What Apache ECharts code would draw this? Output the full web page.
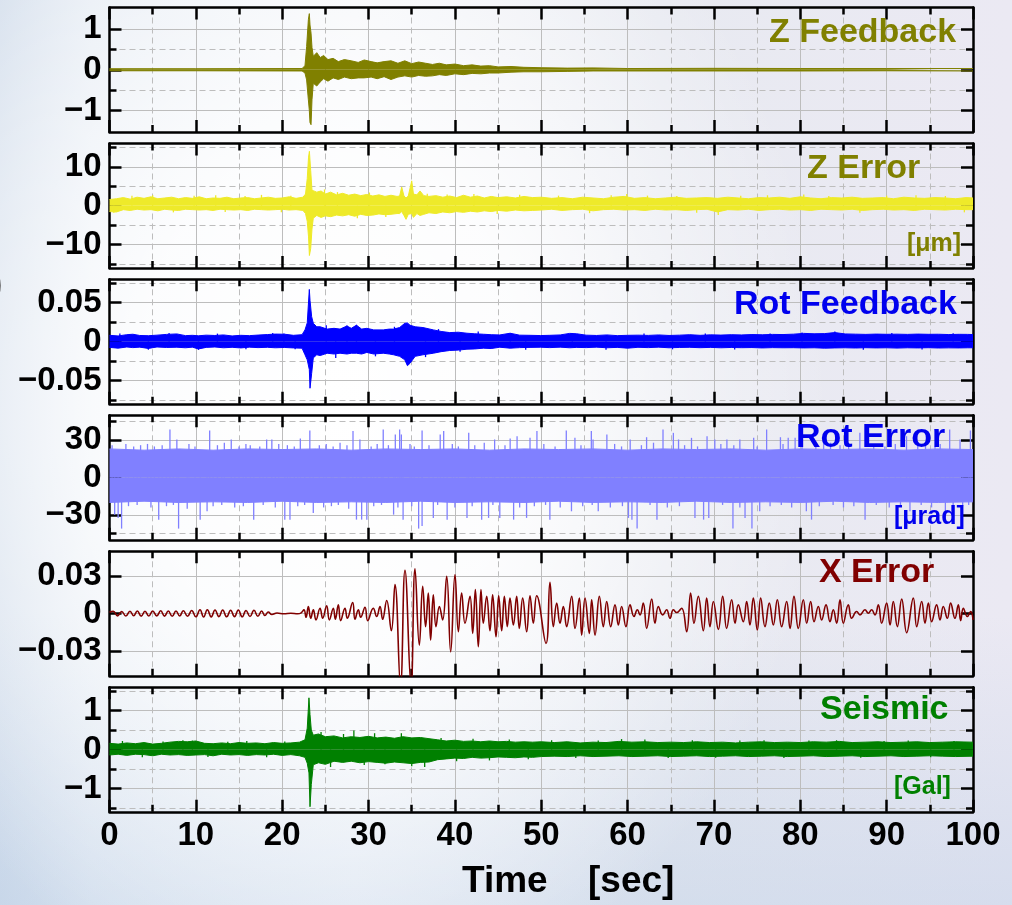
<!DOCTYPE html>
<html lang="en">
<head>
<meta charset="UTF-8">
<title>Feedback / error signals during an earthquake</title>
<script src="https://cdn.jsdelivr.net/npm/echarts@6.0.0/dist/echarts.min.js"></script>
<style>
html, body { margin: 0; padding: 0; }
body {
  width: 1012px; height: 905px; overflow: hidden;
  background:
    radial-gradient(ellipse 500px 620px at 330px 400px, rgba(255,255,255,1) 0%, rgba(255,255,255,0.85) 40%, rgba(255,255,255,0) 100%),
    linear-gradient(180deg, rgba(255,255,255,0) 68%, rgba(170,195,225,0.32) 100%),
    linear-gradient(90deg, #d6e0ed 0%, #e6ecf4 9%, #f3f5f9 35%, #e8eaf1 65%, #ebe9f3 100%);
}
#chart { width: 1012px; height: 905px; }
</style>
</head>
<body>
<div id="chart"></div>
<script>
// envelopes of the dense traces: [time s, upper, lower]
const zFeedback = [
  [0,.025,-.025],[10,.025,-.025],[22.3,.03,-.03],[22.64,.1,-.08],[22.83,.57,-.25],[23.03,1.23,-.74],
  [23.14,1.38,-1.0],[23.22,1.1,-1.3],[23.34,.9,-1.35],[23.45,.55,-.74],[23.6,.33,-.33],[24.0,.42,-.4],
  [24.4,.3,-.3],[24.8,.35,-.22],[25.3,.25,-.28],[25.9,.28,-.2],[26.5,.2,-.24],[27.2,.25,-.18],[28,.22,-.22],
  [28.8,.18,-.2],[29.5,.24,-.2],[30.3,.2,-.18],[31,.17,-.22],[31.8,.2,-.17],[32.6,.22,-.24],[33.4,.16,-.18],
  [34.2,.22,-.15],[35,.15,-.18],[35.8,.19,-.14],[36.6,.16,-.16],[37.4,.13,-.15],[38.2,.16,-.12],[39,.12,-.14],
  [40,.14,-.1],[41,.1,-.12],[42,.12,-.09],[43,.09,-.1],[44,.1,-.08],[45,.07,-.08],[46.5,.08,-.06],[48,.06,-.05],
  [50,.05,-.05],[53,.04,-.04],[56,.045,-.03],[60,.03,-.03],[70,.035,-.03],[80,.03,-.03],[90,.03,-.025],[100,.03,-.03]
];
const zError = [
  [0,1.6,-1.5],[0.8,1.8,-1.6],[1.6,2.1,-1.0],[2.4,1.7,-1.2],[3.2,2.2,-0.9],[4.0,1.9,-1.1],[4.8,2.3,-1.0],
  [5.6,1.8,-1.3],[6.4,2.0,-0.9],[7.2,2.2,-1.1],[8.0,1.8,-1.2],[8.8,2.1,-0.9],[9.6,1.9,-1.0],[10.4,2.3,-1.1],
  [11.2,1.8,-1.0],[12.0,2.0,-1.2],[12.8,1.9,-0.9],[13.6,2.2,-1.0],[14.4,1.8,-1.1],[15.2,2.0,-1.0],[16.0,2.1,-1.2],
  [16.8,1.8,-0.9],[17.6,2.0,-1.0],[18.4,2.2,-1.1],[19.2,1.9,-1.0],[20.0,2.0,-0.9],[20.8,2.3,-1.1],[21.6,1.9,-1.0],
  [22.4,2.2,-1.2],[22.7,3.0,-2.0],[22.9,7,-4],[23.05,12.5,-8],[23.15,14,-12.8],[23.3,9,-11],[23.45,4,-6],
  [23.6,3.8,-3.2],[24.0,3.5,-2.5],[24.5,3.8,-3.0],[25.0,3.0,-2.6],[25.6,3.5,-2.8],[26.3,2.8,-2.4],[27.0,3.2,-2.6],
  [27.7,2.7,-2.3],[28.4,3.0,-2.7],[29.1,2.6,-2.2],[29.8,2.9,-2.5],[30.5,2.5,-2.4],[31.2,2.8,-2.1],[31.9,2.4,-2.3],
  [32.6,2.7,-2.2],[33.3,2.4,-2.0],[33.6,2.5,-2.0],[33.84,4.8,-1.5],[34.1,2.5,-2.5],[34.34,2.0,-3.5],[34.6,2.5,-2.2],
  [35.0,6.4,-2.0],[35.2,3.0,-3.0],[35.34,2.5,-3.2],[35.6,2.8,-2.0],[35.96,3.8,-2.5],[36.4,2.6,-2.2],[37,2.4,-1.8],
  [37.8,2.6,-2.0],[38.6,2.2,-1.6],[39.4,2.5,-1.8],[40.2,2.1,-1.5],[41,2.7,-1.7],[41.8,2.2,-1.4],[42.6,2.5,-1.6],
  [43.4,2.0,-1.3],[44.2,2.4,-1.5],[45,2.1,-1.2],[46,2.3,-1.4],[47,2.0,-1.1],[48,2.4,-1.3],[49,2.1,-1.2],[50,2.2,-1.1],
  [51.2,1.9,-0.9],[52.4,2.1,-1.2],[53.6,1.8,-1.0],[54.8,2.2,-0.9],[56,2.0,-1.3],[57.2,1.8,-1.0],[58.4,2.2,-0.9],
  [59.6,2.4,-1.1],[60.8,1.9,-1.0],[62,2.1,-1.2],[63.2,1.8,-0.9],[64.4,2.0,-1.1],[65.6,2.2,-1.0],[66.8,1.9,-1.2],
  [68,2.0,-1.0],[69.2,2.1,-0.9],[70.4,1.9,-1.6],[71.6,2.2,-1.0],[72.8,2.0,-1.1],[74,1.8,-0.9],[75.2,2.1,-1.2],
  [76.4,2.0,-1.0],[77.6,2.2,-0.9],[78.8,1.9,-1.1],[80,2.3,-1.0],[81.2,2.0,-1.2],[82.4,1.8,-0.9],[83.6,2.1,-1.0],
  [84.8,2.0,-1.1],[86,2.2,-0.9],[87.2,1.9,-1.2],[88.4,2.0,-1.0],[89.6,2.1,-0.9],[90.8,1.8,-1.1],[92,2.2,-1.0],
  [93.2,2.0,-1.2],[94.4,1.9,-0.9],[95.6,2.1,-1.0],[96.8,2.0,-1.1],[98,1.8,-0.9],[99.2,2.1,-1.0],[100,2.0,-1.0]
];
const zErrorSpikes = [
  [0.5,-1.8],[2.6,2.6],[5.0,2.7],[7.4,-1.7],[9.8,2.6],[12.3,2.7],[13.4,-1.6],[15.7,2.5],[17.6,2.8],[19.9,-1.7],
  [21.0,2.6],[24.9,4.2],[26.4,3.5],[28.7,-3.2],[30.1,3.4],[32.0,-2.9],[36.8,3.1],[39.1,2.9],[42.2,3.0],[44.9,-2.1],
  [47.5,2.8],[52.0,2.6],[55.6,-1.9],[58.1,2.7],[59.9,3.0],[62.3,2.6],[65.7,2.5],[68.0,-1.8],[70.5,-2.4],[73.1,2.6],
  [76.2,2.7],[80.4,2.9],[83.3,2.5],[86.9,-1.8],[90.0,2.6],[93.4,2.7],[96.8,2.5],[99.0,-1.7]
];
const rotFeedback = [
  [0,.008,-.0075],[1,.0072,-.0085],[2,.0088,-.007],[2.7,.0094,-.0078],[3.5,.0078,-.0072],[4.5,.0075,-.0088],
  [5.5,.0082,-.007],[6.6,.0092,-.0076],[7.8,.0098,-.0073],[8.8,.0076,-.008],[9.6,.008,-.0072],[10.3,.0074,-.0095],
  [11.2,.0082,-.0075],[12.2,.0078,-.007],[13.2,.0085,-.008],[14.2,.0072,-.0074],[15.2,.008,-.0082],[16.2,.0076,-.0072],
  [17.2,.0083,-.0078],[18.3,.009,-.0074],[19.2,.0096,-.008],[20.3,.0094,-.0076],[21.3,.008,-.0082],[22.3,.0088,-.0085],
  [22.64,.015,-.017],[22.9,.024,-.0235],[23.14,.067,-.036],[23.22,.053,-.06],[23.41,.032,-.041],[23.6,.0235,-.021],
  [24.0,.019,-.017],[24.4,.019,-.018],[25.2,.016,-.015],[26.0,.017,-.016],[26.7,.016,-.015],[27.5,.02,-.016],
  [28.0,.017,-.015],[28.6,.021,-.015],[29.2,.016,-.016],[29.8,.017,-.014],[30.6,.015,-.016],[31.7,.015,-.015],
  [32.4,.016,-.016],[32.9,.016,-.017],[33.6,.018,-.019],[34.2,.0235,-.0235],[34.5,.024,-.031],[34.8,.021,-.028],
  [35.4,.019,-.019],[36.3,.018,-.017],[37.5,.015,-.015],[38.4,.013,-.013],[39.4,.0115,-.0115],[40.4,.012,-.011],
  [41.4,.0107,-.0098],[42.3,.01,-.0095],[43.3,.0094,-.0085],[44.2,.0088,-.009],[45.2,.0085,-.0073],[46.4,.0107,-.0085],
  [47.5,.0082,-.0078],[48.7,.008,-.0075],[49.9,.0077,-.0073],[51,.008,-.0078],[52.2,.0085,-.0072],[53.3,.0105,-.008],
  [54.1,.01,-.0075],[55.2,.0082,-.0078],[56.4,.0078,-.0072],[57.6,.0085,-.008],[58.8,.0076,-.0075],[60,.008,-.0085],
  [61.2,.0082,-.0074],[62.4,.0079,-.0078],[63.6,.0085,-.0072],[64.8,.0078,-.008],[66,.0082,-.0076],[67.2,.0088,-.0074],
  [68.4,.008,-.0079],[69.6,.0086,-.0075],[70.8,.0083,-.008],[72,.0088,-.0076],[73.2,.0085,-.0079],[74.4,.009,-.0077],
  [75.6,.0087,-.0082],[76.8,.0092,-.0078],[78,.009,-.008],[79.2,.0095,-.0079],[80.4,.0105,-.0082],[81.6,.01,-.008],
  [82.8,.0102,-.0085],[84,.0115,-.0082],[85.2,.0098,-.008],[86.4,.0095,-.0083],[87.6,.0092,-.0079],[88.8,.0096,-.0082],
  [90,.0093,-.008],[91.2,.0095,-.0084],[92.4,.0092,-.008],[93.6,.0096,-.0082],[94.8,.0093,-.0079],[96,.0094,-.0083],
  [97.2,.009,-.0081],[98.4,.0093,-.0082],[99.4,.0092,-.008],[100,.009,-.008]
];
const rotFeedbackSpikes = [
  [1.2,.0105],[4.5,-.0105],[6.9,.011],[10.3,-.0107],[12.5,.0102],[15.8,-.01],[18.9,.011],[20.2,.0105],[21.5,-.01],
  [25.1,.021],[26.2,-.021],[27.5,.0205],[28.6,.0214],[30.8,-.019],[33.0,.019],[36.6,-.02],[38.1,.016],[40.6,-.013],
  [42.7,.013],[46.4,.0107],[48.2,-.0105],[53.6,.0107],[57.5,-.0105],[61.9,.0102],[65.2,-.01],[69.0,.0102],
  [72.4,-.0103],[76.5,.0105],[80.2,.0115],[84.0,.0128],[87.3,-.0105],[90.6,.011],[94.1,-.0102],[97.7,.0107]
];
const rotError = [
  [0,23,-20],[4,22,-19],[8,23,-20],[12,22,-19.5],[16,23,-20],[20,22.5,-19],[24,23,-20],[28,22,-19.5],[32,23,-20],
  [36,22.5,-19],[40,23,-20],[44,22,-19.5],[48,23,-20],[52,22.5,-19],[56,23,-20],[60,22,-19.5],[64,23,-20],
  [68,22.5,-19],[72,23,-20],[76,22,-19.5],[80,23,-20],[84,22.5,-19],[88,23,-20],[92,22,-19.5],[96,23,-20],[100,22.5,-19.5]
];
const rotErrorSpikes = [
  [7.0,38.6],[7.8,30.6],[11.6,37.8],[14.1,30.6],[18.2,30.6],[18.8,30.6],[22.1,31.4],[23.2,37.8],[28.2,37.3],[29.0,30.6],
  [31.7,38.6],[33.1,34.6],[33.6,38.6],[33.8,34.6],[36.2,37.8],[38.3,34.6],[38.7,37.3],[41.6,35.9],[44.6,30.6],[46.4,31.4],
  [47.2,33.2],[48.7,31.9],[49.5,37.3],[52.9,37.8],[53.9,31.9],[55.8,37.3],[56.0,30.6],[57.6,34.6],[60.3,30.6],[62.2,32.4],
  [64.1,38.6],[65.3,35.9],[65.9,30.6],[67.4,31.9],[69.2,33.2],[70.1,30.6],[71.5,30.6],[73.0,30.6],[74.6,31.9],[76.1,38.6],
  [77.7,32.4],[78.6,31.9],[79.4,31.9],[82.7,34.6],[86.9,35.9],[92.3,33.2],[97.3,38.6],[98.5,30.6],[99.7,37.8],
  [0.6,-29.8],[1.0,-32.4],[1.4,-41],[5.7,-33.8],[8.0,-41],[10.5,-33.8],[11.3,-27.1],[16.7,-33.8],[20.3,-33.8],[20.9,-33.8],
  [23.6,-28.4],[28.6,-33.8],[29.2,-33.8],[29.8,-33.8],[32.9,-29.8],[34.0,-33.8],[35.8,-41],[36.2,-39],[37.5,-32.4],
  [39.1,-33.8],[41.4,-32.4],[43.1,-33.8],[43.9,-32.4],[45.2,-32.4],[46.8,-33.8],[48.3,-32.4],[51.0,-33.8],[53.5,-27.1],
  [56.6,-27.1],[60.1,-32.4],[60.5,-33.8],[61.1,-41],[63.4,-33.8],[67.8,-32.4],[68.8,-33.8],[69.4,-32.4],[72.2,-41],
  [73.6,-32.4],[74.4,-41],[75.3,-27.1],[80.7,-27.1],[81.3,-33.8],[87.5,-33.8],[92.7,-27.1],[96.8,-32.4],[97.7,-33.8],
  [0.3,26],[1.9,27],[2.8,25],[3.6,26],[4.4,27],[5.2,25],[6.1,26],[9.2,27],[9.9,25],[12.5,26],[13.3,28],[15.0,25],
  [15.8,27],[16.3,26],[17.4,25],[19.6,27],[20.6,26],[21.4,25],[24.3,26],[25.1,27],[25.9,25],[26.7,28],[27.5,26],
  [30.3,25],[31.0,27],[32.3,26],[34.8,27],[35.3,25],[37.0,26],[39.7,27],[40.4,25],[42.3,26],[43.4,28],[45.8,26],
  [50.3,27],[51.6,25],[54.6,26],[58.5,27],[59.3,25],[61.6,26],[63.0,28],[66.6,26],[68.1,25],[70.8,27],[72.3,26],
  [75.0,25],[78.0,27],[80.2,26],[81.8,25],[83.5,28],[84.6,26],[85.6,27],[88.5,26],[89.8,25],[91.0,27],[93.6,26],
  [94.5,28],[95.6,25],[96.2,27],
  [2.2,-23],[3.2,-22],[4.8,-24],[6.6,-23],[7.4,-22],[9.0,-25],[12.0,-23],[13.0,-22],[14.5,-24],[15.5,-23],[17.8,-22],
  [19.2,-24],[21.8,-23],[22.6,-22],[24.8,-24],[25.7,-23],[26.5,-22],[27.7,-25],[30.6,-23],[31.5,-22],[33.4,-24],
  [35.0,-23],[38.0,-22],[40.0,-24],[42.0,-23],[44.4,-22],[47.5,-24],[49.2,-23],[50.5,-22],[52.2,-24],[54.8,-23],
  [55.9,-22],[58.0,-24],[59.4,-23],[62.6,-22],[64.6,-24],[66.0,-23],[71.0,-22],[73.0,-24],[76.5,-23],[77.8,-22],
  [79.0,-24],[82.2,-23],[83.8,-22],[85.0,-24],[86.2,-23],[88.8,-22],[90.3,-24],[91.6,-23],[94.0,-22],[95.2,-24],
  [98.8,-23],[99.5,-22]
];
const seismic = [
  [0,.16,-.14],[1,.14,-.12],[2,.17,-.15],[3,.15,-.12],[4,.18,-.13],[5,.14,-.16],[6,.16,-.12],[7,.19,-.14],[8,.21,-.13],
  [9,.2,-.15],[10,.22,-.14],[11,.16,-.13],[12,.15,-.16],[13,.17,-.12],[14,.15,-.14],[15,.18,-.13],[16,.16,-.15],
  [17,.17,-.13],[18,.15,-.14],[19,.18,-.12],[20,.16,-.15],[21,.17,-.13],[22,.19,-.16],[22.64,.25,-.2],[22.9,.55,-.35],
  [23.1,1.33,-.6],[23.22,.9,-1.47],[23.37,.5,-.9],[23.6,.37,-.39],[24.2,.4,-.34],[25,.33,-.38],[26,.35,-.3],[27,.3,-.33],
  [28,.33,-.3],[29,.31,-.34],[30,.34,-.31],[31,.3,-.33],[32,.32,-.35],[33,.29,-.32],[34,.33,-.34],[35,.3,-.36],
  [36,.31,-.33],[37,.28,-.32],[38,.25,-.26],[39,.22,-.24],[40,.24,-.22],[41,.21,-.23],[42,.22,-.2],[43,.2,-.22],
  [44,.22,-.21],[45,.2,-.19],[46,.21,-.2],[47,.19,-.21],[48,.2,-.19],[49,.19,-.2],[50,.2,-.18],[51.5,.18,-.17],
  [53,.2,-.18],[54.5,.17,-.16],[56,.19,-.18],[57.5,.18,-.17],[59,.21,-.16],[60.5,.19,-.18],[62,.2,-.17],[63.5,.18,-.16],
  [65,.19,-.18],[66.5,.18,-.17],[68,.2,-.16],[69.5,.18,-.18],[71,.19,-.17],[72.5,.17,-.16],[74,.19,-.18],[75.5,.2,-.17],
  [77,.18,-.16],[78.5,.19,-.18],[80,.18,-.17],[81.5,.2,-.16],[83,.19,-.18],[84.5,.21,-.17],[86,.18,-.16],[87.5,.19,-.18],
  [89,.2,-.17],[90.5,.18,-.16],[92,.19,-.18],[93.5,.2,-.17],[95,.18,-.16],[96.5,.19,-.17],[98,.2,-.18],[100,.19,-.17]
];
const seismicSpikes = [
  [1.5,.22],[3.8,-.2],[6.2,.21],[8.5,.24],[9.6,.23],[11.4,-.19],[13.7,.2],[15.9,.22],[18.2,-.2],[20.3,.21],[24.5,.45],
  [25.6,-.45],[27.1,.4],[28.3,.49],[29.5,-.4],[30.7,.42],[31.9,-.38],[33.8,.42],[35.0,-.43],[36.5,-.45],[38.4,.3],
  [40.2,-.3],[42.1,.28],[44.0,-.28],[46.3,.26],[48.5,-.25],[51.2,.24],[54.0,-.22],[56.6,.23],[59.3,.27],[62.0,.26],
  [64.7,-.22],[67.5,.24],[70.2,-.21],[73.0,.23],[75.8,.24],[78.1,-.22],[81.0,.23],[84.2,.24],[87.0,-.21],[89.7,.22],
  [92.5,.23],[95.1,-.2],[97.8,.22]
];
// X error is resolved cycle by cycle: [time s, value] at each turning point
const xError = [
  [0,.001],[0.44,.0018],[0.93,-.0019],[1.41,.0017],[1.89,-.002],[2.37,.0019],[2.8,-.0018],[3.22,.002],[3.67,-.0021],
  [4.11,.0018],[4.55,-.002],[5.0,.0021],[5.47,-.0019],[5.93,.0022],[6.37,-.0021],[6.81,.002],[7.26,-.0022],[7.7,.0021],
  [8.13,-.002],[8.55,.0023],[9.04,-.0022],[9.52,.0024],[10.0,-.0026],[10.48,.003],[10.9,-.0028],[11.33,.0031],
  [11.78,-.0027],[12.22,.0029],[12.67,-.0025],[13.11,.0028],[13.57,-.0026],[14.03,.0027],[14.48,-.0025],[14.92,.0028],
  [15.37,-.0026],[15.81,.0025],[16.27,-.0024],[16.73,.0026],[17.18,-.0022],[17.62,.002],[18.0,-.0016],[18.39,.0012],
  [18.8,-.0008],[19.4,.0004],[20.2,-.0002],[21.0,.0003],[21.8,-.0002],[22.2,.0006],
  [22.52,.003],[22.76,-.003],[23.03,.0057],[23.3,-.0038],[23.61,.003],[23.91,-.0051],[24.38,.0043],[24.69,-.0038],
  [25.15,.0062],[25.46,-.0051],[25.92,.0043],[26.15,-.0046],[26.5,.007],[26.77,-.0057],[27.27,.0043],[27.54,-.0038],
  [28.16,.0089],[28.43,-.0046],[28.82,.003],[29.09,-.003],[29.59,.0051],[29.9,-.0057],[30.55,.0043],[30.94,-.0024],
  [31.33,.0057],[31.63,-.0046],[32.1,.0105],[32.64,-.0138],[33.06,.0232],[33.7,-.058],[34.22,.0348],[34.92,-.058],
  [35.38,.0359],[35.88,-.0254],[36.27,.0219],[36.61,-.0105],[36.92,.0165],[37.19,-.0213],[37.5,.0151],[37.81,-.0105],
  [38.2,.0057],[38.58,-.0051],[39.05,.03],[39.51,-.0308],[40.01,.0313],[40.4,-.0146],[40.78,.0165],[41.17,-.0078],
  [41.75,.0138],[42.06,-.0159],[42.37,.0192],[42.71,-.0267],[43.02,.0192],[43.29,-.0078],[43.68,.0138],[44.06,-.0138],
  [44.37,.0151],[44.76,-.0186],[45.07,.0143],[45.42,-.0138],[45.73,.0138],[46.07,-.0105],[46.38,.0124],[46.77,-.0092],
  [47.15,.0138],[47.46,-.0119],[47.85,.0124],[48.31,-.0146],[48.7,.0143],[49.08,-.0078],[49.47,.0143],
  [50.55,-.024],[51.01,.0251],[51.4,-.0105],[51.79,.0084],[52.17,-.0078],[52.56,.0057],[52.94,-.0105],[53.52,.0138],
  [53.91,-.0119],[54.41,.0124],[54.68,-.0173],[55.07,.0124],[55.57,-.0159],[55.84,.0111],[56.23,-.0173],[56.73,.0138],
  [57.19,-.0105],[57.58,.0097],[58.04,-.0105],[58.54,.007],[58.93,-.0092],[59.31,.0057],[59.81,-.0105],[60.28,.007],
  [60.74,-.0024],[61.13,.003],[61.44,-.0011],[61.82,.0084],[62.21,-.0119],[62.79,.0116],[63.17,-.0078],[63.56,.0057],
  [64.06,-.0011],[64.52,.003],[64.91,-.0038],[65.3,.003],[65.68,.0008],[66.26,.0043],[66.84,-.0146],[67.3,.0165],
  [67.69,-.0078],[68.19,.0138],[68.77,-.0138],[69.16,.0124],[69.54,-.0105],[69.93,.0097],[70.51,-.0127],[71.01,.0138],
  [71.47,-.0119],[72.05,.0111],[72.44,-.0078],[72.82,.007],[73.4,-.0065],[73.79,.0097],[74.17,-.0092],[74.56,.0124],
  [75.02,-.0132],[75.41,.0124],[75.91,-.0105],[76.41,.0084],[76.88,-.0092],[77.34,.0111],[77.84,-.0105],[78.42,.0097],
  [78.81,-.0119],[79.27,.0138],[79.77,-.0119],[80.35,.0111],[80.74,-.0078],[81.2,.0097],[81.59,-.0065],[82.09,.0057],
  [82.47,-.0051],[82.98,.007],[83.44,-.0065],[83.82,.003],[84.21,-.0078],[84.6,.0111],[84.98,-.0078],[85.56,.007],
  [85.95,-.0038],[86.53,.0016],[86.91,-.0011],[87.49,.003],[87.88,.0003],[88.26,.003],[88.65,-.0011],[89.04,.007],
  [89.42,-.0078],[90.0,.0084],[90.39,-.0092],[90.77,.0097],[91.24,-.0105],[91.74,.0116],[92.32,-.0154],[93.09,.0124],
  [93.48,-.0105],[94.06,.0097],[94.44,-.0078],[94.83,.0084],[95.21,-.0065],[95.79,.007],[96.18,-.0051],[96.56,.0057],
  [97.03,-.0038],[97.41,.0084],[97.91,-.0038],[98.3,.007],[98.57,-.0057],[98.88,.0043],[99.34,-.0024],[99.73,.0016],[100,-.0051]
];

// axes: half range, labelled ticks, minor ticks
const yRange = [1.53, 16, 0.08, 50, 0.05, 1.6];
const yMajor = [[-1,0,1],[-10,0,10],[-0.05,0,0.05],[-30,0,30],[-0.03,0,0.03],[-1,0,1]];
const yMinor = [[-0.5,0.5],[-15,-5,5,15],[-0.075,-0.025,0.025,0.075],[-45,-15,15,45],[],[-1.5,-0.5,0.5,1.5]];
const xTicks = [0,10,20,30,40,50,60,70,80,90,100];
const xMinor = [5,15,25,35,45,55,65,75,85,95];
const panelNames = ['Z Feedback','Z Error','Rot Feedback','Rot Error','X Error','Seismic'];
const panelUnits = ['','[\u03bcm]','','[\u03bcrad]','','[Gal]'];

// styling
const traceColors = ['#808000','#eeea2a','#0000ff','#8080ff','#800000','#008000'];
const titleColors = ['#808000','#808000','#0000ee','#0000ee','#800000','#008000'];
const gridTops = [7.5, 143.5, 279.3, 415.3, 551.3, 687.3];
const GRID_H = 124.5, GRID_L = 109.5, GRID_W = 863.5;
const LINE = '#bdbdbd';
const FONT = '"Liberation Sans", Arial, sans-serif';
const fmt = v => v < 0 ? '\u2212' + (-v) : String(v);

const chart = echarts.init(document.getElementById('chart'));
const grid = [], xAxis = [], yAxis = [], series = [], graphic = [];

const tickStyle = {color: '#000', width: 2.5};
panelNames.forEach((name, i) => {
  grid.push({left: GRID_L, top: gridTops[i], width: GRID_W, height: GRID_H, outerBoundsMode: 'none'});

  const xb = {gridIndex: i, type: 'value', min: 0, max: 100, splitLine: {show: false}, axisLabel: {show: false}};
  xAxis.push(Object.assign({}, xb, {
    position: 'bottom',
    axisLine: {onZero: false, lineStyle: tickStyle},
    axisTick: {inside: true, length: 12, lineStyle: tickStyle, customValues: xTicks},
    axisLabel: {show: i === 5, customValues: xTicks, color: '#000', fontFamily: FONT, fontWeight: 'bold', fontSize: 33, margin: 8},
    splitLine: {show: true, lineStyle: {color: LINE, width: 1}}
  }));
  xAxis.push(Object.assign({}, xb, {
    position: 'bottom', axisLine: {show: false, onZero: false},
    axisTick: {inside: true, length: 7, lineStyle: tickStyle, customValues: xMinor},
    splitLine: {show: true, lineStyle: {color: LINE, width: 1, type: [6, 4]}}
  }));
  xAxis.push(Object.assign({}, xb, {
    position: 'top',
    axisLine: {onZero: false, lineStyle: tickStyle},
    axisTick: {inside: true, length: 12, lineStyle: tickStyle, customValues: xTicks}
  }));
  xAxis.push(Object.assign({}, xb, {
    position: 'top', axisLine: {show: false, onZero: false},
    axisTick: {inside: true, length: 7, lineStyle: tickStyle, customValues: xMinor}
  }));

  const yb = {gridIndex: i, type: 'value', min: -yRange[i], max: yRange[i], splitLine: {show: false}, axisLabel: {show: false}};
  const hasMinor = yMinor[i].length > 0;
  yAxis.push(Object.assign({}, yb, {
    position: 'left',
    axisLine: {show: true, onZero: false, lineStyle: tickStyle},
    axisTick: {inside: true, length: 12, lineStyle: tickStyle, customValues: yMajor[i]},
    axisLabel: {show: true, customValues: yMajor[i], formatter: fmt, color: '#000', fontFamily: FONT, fontWeight: 'bold', fontSize: 33, margin: 8},
    splitLine: {show: true, lineStyle: {color: LINE, width: 1}}
  }));
  yAxis.push(Object.assign({}, yb, {
    position: 'left', axisLine: {show: false, onZero: false},
    axisTick: {show: hasMinor, inside: true, length: 7, lineStyle: tickStyle, customValues: hasMinor ? yMinor[i] : [0]},
    splitLine: {show: hasMinor, lineStyle: {color: LINE, width: 1, type: [6, 4]}}
  }));
  yAxis.push(Object.assign({}, yb, {
    position: 'right',
    axisLine: {show: true, onZero: false, lineStyle: tickStyle},
    axisTick: {inside: true, length: 12, lineStyle: tickStyle, customValues: yMajor[i]}
  }));
  yAxis.push(Object.assign({}, yb, {
    position: 'right', axisLine: {show: false, onZero: false},
    axisTick: {show: hasMinor, inside: true, length: 7, lineStyle: tickStyle, customValues: hasMinor ? yMinor[i] : [0]}
  }));

  // titles
  graphic.push({type: 'text', z: 100, x: [769,807,734,796,819,820][i], y: [33,169,304.5,438,573,709.5][i],
    style: {text: name, fill: titleColors[i], font: 'bold 34px ' + FONT, textAlign: 'left', textVerticalAlign: 'middle', verticalAlign: 'middle'}});
  if (panelUnits[i]) {
    graphic.push({type: 'text', z: 100, x: [0,907,0,894,0,894][i], y: [0,244,0,517,0,787][i],
      style: {text: panelUnits[i], fill: titleColors[i], font: 'bold 25px ' + FONT, textAlign: 'left', textVerticalAlign: 'middle', verticalAlign: 'middle'}});
  }
});

function band(i, env, spikes) {
  const c = traceColors[i];
  const base = {type: 'line', xAxisIndex: 4 * i, yAxisIndex: 4 * i, showSymbol: false, symbol: 'none', clip: true,
    silent: true, z: 3, lineStyle: {color: c, width: 1}, areaStyle: {color: c, opacity: 1, origin: 'auto'}};
  series.push(Object.assign({}, base, {data: env.map(d => [d[0], d[1]])}));
  series.push(Object.assign({}, base, {data: env.map(d => [d[0], d[2]])}));
  if (spikes) {
    series.push({type: 'bar', xAxisIndex: 4 * i, yAxisIndex: 4 * i, barWidth: 1.3, silent: true, z: 3,
      itemStyle: {color: c}, data: spikes});
  }
}
band(0, zFeedback);
band(1, zError, zErrorSpikes);
band(2, rotFeedback, rotFeedbackSpikes);
band(3, rotError, rotErrorSpikes);
series.push({type: 'line', xAxisIndex: 16, yAxisIndex: 16, data: xError, showSymbol: false, symbol: 'none',
  smooth: 0.45, clip: true, silent: true, z: 3, lineStyle: {color: traceColors[4], width: 1.6}});
band(5, seismic, seismicSpikes);

// bottom axis title and the cut-off glyph at the left edge
graphic.push({type: 'text', z: 100, x: 462, y: 881.5, style: {text: 'Time', fill: '#000', font: 'bold 37px ' + FONT, textVerticalAlign: 'middle', verticalAlign: 'middle'}});
graphic.push({type: 'text', z: 100, x: 588, y: 881.5, style: {text: '[sec]', fill: '#000', font: 'bold 37px ' + FONT, textVerticalAlign: 'middle', verticalAlign: 'middle'}});
graphic.push({type: 'text', z: 100, x: -9, y: 285, style: {text: ')', fill: '#555', font: '36px ' + FONT, textVerticalAlign: 'middle', verticalAlign: 'middle'}});

chart.setOption({
  animation: false,
  backgroundColor: 'transparent',
  grid: grid, xAxis: xAxis, yAxis: yAxis, series: series, graphic: graphic
});
</script>
</body>
</html>
